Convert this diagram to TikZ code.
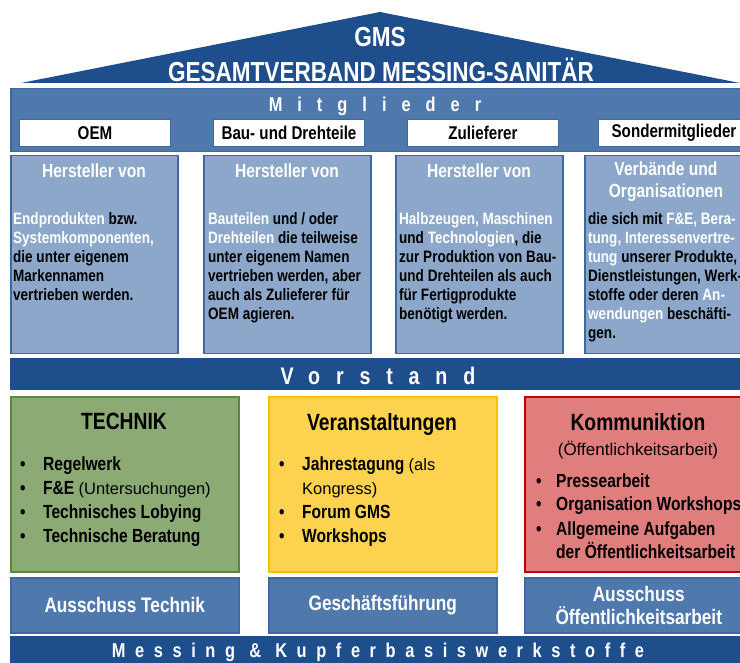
\documentclass[tikz,border=0pt]{standalone}
\usepackage{fontspec}
\setmainfont{Liberation Sans}[FakeStretch=0.82]
\newfontfamily\thinfont{Liberation Sans}
\usetikzlibrary{positioning}

\definecolor{gmsdark}{HTML}{1F4E8D}
\definecolor{gmsmid}{HTML}{4F79AD}
\definecolor{gmslight}{HTML}{8CA7C9}
\definecolor{gmsedge}{HTML}{3E68A0}
\definecolor{techfill}{HTML}{8BAA74}
\definecolor{techedge}{HTML}{5B8B3A}
\definecolor{eventfill}{HTML}{FDD24F}
\definecolor{eventedge}{HTML}{FFC000}
\definecolor{commfill}{HTML}{E07E7E}
\definecolor{commedge}{HTML}{C00000}

\newcommand{\wt}[1]{\textcolor{white}{#1}}
\newcommand{\thin}[1]{{\thinfont\mdseries\fontsize{16.5}{24}\selectfont #1}}

\begin{document}
\begin{tikzpicture}[x=1pt, y=-1pt, inner sep=0pt,
    every node/.style={font=\bfseries},
    memberbox/.style={draw=gmsedge, fill=white, line width=1pt, minimum width=151pt, minimum height=27pt, anchor=north west, font=\fontsize{18.5}{18.5}\selectfont\bfseries},
    herstbox/.style={draw=gmsedge, fill=gmslight, line width=1.5pt, minimum width=167pt, minimum height=198pt, anchor=north west},
    hersttitle/.style={text=white, font=\fontsize{19}{22}\selectfont\bfseries, anchor=base},
    hersttext/.style={font=\fontsize{16.5}{19}\selectfont\bfseries, anchor=base west},
    bandtext/.style={text=white, anchor=center},
    fieldbox/.style={line width=2pt, minimum width=228pt, minimum height=175pt, anchor=north west},
    fieldtitle/.style={font=\fontsize{23.5}{23.5}\selectfont\bfseries, anchor=base},
    fieldlist/.style={font=\fontsize{19}{24}\selectfont\bfseries, anchor=base west},
    lowbox/.style={draw=gmsedge, fill=gmsmid, line width=1.5pt, minimum width=228pt, minimum height=55pt, anchor=north west, text=white, align=center, font=\fontsize{21}{23}\selectfont\bfseries}]

    \useasboundingbox (0,0) rectangle (740,663);

    % Dach
    \fill[gmsdark] (21,83) -- (380,12) -- (740,83) -- cycle;
    \node[bandtext, font=\fontsize{27.5}{27.5}\selectfont\bfseries] (gms) at (380,37) {GMS};
    \node[bandtext, font=\fontsize{27.5}{27.5}\selectfont\bfseries] (gesamt) at (381,70) {GESAMTVERBAND MESSING-SANITÄR};

    % Mitglieder
    \node[draw=gmsedge, fill=gmsmid, line width=1.5pt, minimum width=745pt, minimum height=63pt, anchor=north west] (mitglieder) at (10,88) {};
    \node[bandtext, font=\fontsize{20}{20}\selectfont\bfseries\addfontfeature{LetterSpace=75}] (mtext) at (375,106) {Mitglieder};
    \node[memberbox] (oem) at (19,119) {OEM};
    \node[memberbox, right=42pt of oem] (bau) {Bau- und Drehteile};
    \node[memberbox, right=42pt of bau] (zul) {Zulieferer};
    \node[memberbox, right=39pt of zul] (sonder) {Sondermitglieder};

    \node[herstbox] (h1) at (10,155) {};
    \node[herstbox] (h2) at (203,155) {};
    \node[herstbox] (h3) at (395,155) {};
    \node[herstbox] (h4) at (584,155) {};

    \node[hersttitle] (t1) at (94,178) {Hersteller von};
    \node[hersttitle] (t2) at (287,178) {Hersteller von};
    \node[hersttitle] (t3) at (479,178) {Hersteller von};
    \node[hersttitle] (t4) at (666,176) {\begin{tabular}[t]{@{}c@{}}Verbände und\\Organisationen\end{tabular}};

    \node[hersttext] (b1) at (13,225) {\begin{tabular}[t]{@{}l@{}}
        \wt{Endprodukten} bzw.\\\wt{Systemkomponenten,}\\die unter eigenem\\Markennamen\\vertrieben werden.
    \end{tabular}};
    \node[hersttext] (b2) at (208,225) {\begin{tabular}[t]{@{}l@{}}
        \wt{Bauteilen} und / oder\\\wt{Drehteilen} die teilweise\\unter eigenem Namen\\vertrieben werden, aber\\auch als Zulieferer für\\OEM agieren.
    \end{tabular}};
    \node[hersttext] (b3) at (399,225) {\begin{tabular}[t]{@{}l@{}}
        \wt{Halbzeugen, Maschinen}\\und \wt{Technologien}, die\\zur Produktion von Bau-\\und Drehteilen als auch\\für Fertigprodukte\\benötigt werden.
    \end{tabular}};
    \node[hersttext] (b4) at (588,225) {\begin{tabular}[t]{@{}l@{}}
        die sich mit \wt{F\&E, Bera-}\\\wt{tung, Interessenvertre-}\\\wt{tung} unserer Produkte,\\Dienstleistungen, Werk-\\stoffe oder deren \wt{An-}\\\wt{wendungen} beschäfti-\\gen.
    \end{tabular}};

    % Vorstand
    \node[fill=gmsdark, minimum width=745pt, minimum height=32pt, anchor=north west] (vorstand) at (10,358) {};
    \node[bandtext, font=\fontsize{24}{24}\selectfont\bfseries\addfontfeature{LetterSpace=66}] (vtext) at (378,376) {Vorstand};

    % Arbeitsfelder
    \node[fieldbox, draw=techedge, fill=techfill] (technik) at (10,396) {};
    \node[fieldbox, draw=eventedge, fill=eventfill] (events) at (268,396) {};
    \node[fieldbox, draw=commedge, fill=commfill] (komm) at (524,396) {};

    \node[fieldtitle] (ttech) at (124,429) {TECHNIK};
    \node[fieldtitle] (tevent) at (382,431) {Veranstaltungen};
    \node[fieldtitle] (tkomm) at (638,431) {Kommuniktion};
    \node[anchor=base, font=\fontsize{17}{17}\selectfont\thinfont\mdseries] (tkomm2) at (638,456) {(Öffentlichkeitsarbeit)};

    \node[fieldlist] (ltech) at (20,471) {\begin{tabular}[t]{@{}p{23pt}@{}l@{}}
        \textbullet & Regelwerk\\
        \textbullet & F\&E \thin{(Untersuchungen)}\\
        \textbullet & Technisches Lobying\\
        \textbullet & Technische Beratung
    \end{tabular}};
    \node[fieldlist] (levent) at (279,471) {\begin{tabular}[t]{@{}p{23pt}@{}l@{}}
        \textbullet & Jahrestagung \thin{(als}\\
        & \thin{Kongress)}\\
        \textbullet & Forum GMS\\
        \textbullet & Workshops
    \end{tabular}};
    \node[fieldlist] (lkomm) at (536,487) {\begin{tabular}[t]{@{}p{20pt}@{}l@{}}
        \textbullet & Pressearbeit\\
        \textbullet & Organisation Workshops\\
        \textbullet & Allgemeine Aufgaben\\
        & der Öffentlichkeitsarbeit
    \end{tabular}};

    % Ausschuesse
    \node[lowbox] (atech) at (10,577) {Ausschuss Technik};
    \node[lowbox] (gf) at (268,577) {Geschäftsführung};
    \node[lowbox] (aoeff) at (524,577) {Ausschuss\\Öffentlichkeitsarbeit};

    % Werkstoffe
    \node[fill=gmsdark, minimum width=745pt, minimum height=35pt, anchor=north west] (werkstoffe) at (10,636) {};
    \node[bandtext, font=\fontsize{20}{20}\selectfont\bfseries\addfontfeature{LetterSpace=48}] (wtext) at (378,652) {Messing \& Kupferbasiswerkstoffe};
\end{tikzpicture}
\end{document}
